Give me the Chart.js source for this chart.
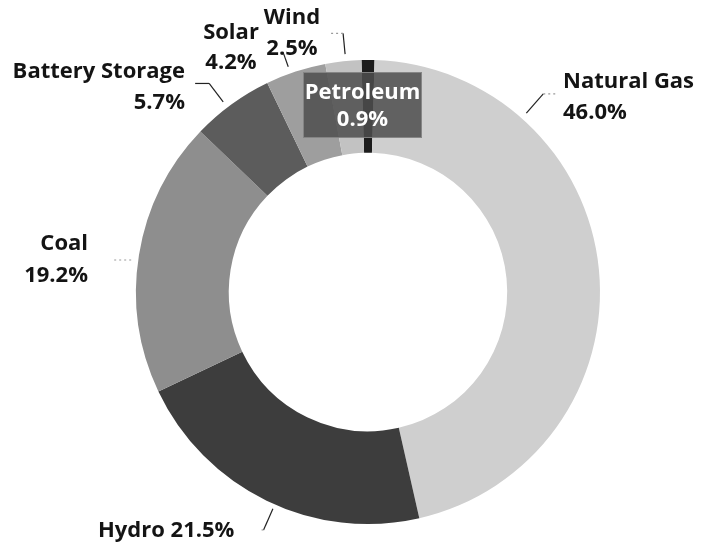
<!DOCTYPE html>
<html>
<head>
<meta charset="utf-8">
<script src="https://cdn.jsdelivr.net/npm/chart.js@4"></script>
<style>
  body { margin: 0; background: #fff; }
  #wrap { width: 701px; height: 549px; position: relative; }
</style>
</head>
<body>
<div id="wrap"><canvas id="mixChart"></canvas></div>
<script>
// Generation mix, percent share by source (clockwise from top)
const sources = ['Petroleum', 'Natural Gas', 'Hydro', 'Coal', 'Battery Storage', 'Solar', 'Wind'];
const shares = [0.9, 46.0, 21.5, 19.2, 5.7, 4.2, 2.5];
const sliceColors = ['#1c1c1c', '#cfcfcf', '#3d3d3d', '#8e8e8e', '#5c5c5c', '#9e9e9e', '#c2c2c2'];

// Where each outside label sits and how its leader line runs
// leader: angle in degrees clockwise from top, r0/r1 as a fraction of the outer radius, tail in px
const labelLayout = {
    'Natural Gas':     { x: 563, y: 82,  align: 'left',   lineGap: 31, leader: { angle: 41.5, r0: 1.03, r1: 1.14, tail: 13, tailFaint: true } },
    'Hydro':           { x: 98,  y: 531, align: 'left',   lineGap: 0,  oneLine: true, leader: { angle: 203.7, r0: 1.02, r1: 1.12, tail: -4, tailFaint: true } },
    'Coal':            { x: 88,  y: 244, align: 'right',  lineGap: 32, leader: { angle: 277.7, r0: 1.03, r1: 1.03, tail: -17, tailFaint: true } },
    'Battery Storage': { x: 185, y: 72,  align: 'right',  lineGap: 31, leader: { angle: 322.7, r0: 1.03, r1: 1.13, tail: -14 } },
    'Solar':           { x: 231, y: 33,  align: 'center', lineGap: 30, leader: { angle: 340.5, r0: 1.03, r1: 1.09, tail: 0 } },
    'Wind':            { x: 292, y: 18,  align: 'center', lineGap: 31, leader: { angle: 354.5, r0: 1.03, r1: 1.12, tail: -15, tailFaint: true } }
};

// Boxed label drawn over the top of the ring
const boxedLabel = { name: 'Petroleum', x: 303, y: 72, w: 119, h: 66 };

const labelFont = '700 22px "Open Sans", sans-serif';

function polar(cx, cy, r, deg) {
    const a = deg * Math.PI / 180;
    return { x: cx + r * Math.sin(a), y: cy - r * Math.cos(a) };
}

const outsideLabels = {
    id: 'outsideLabels',
    afterDraw(chart) {
        const ctx = chart.ctx;
        const meta = chart.getDatasetMeta(0);
        const arc0 = meta.data[0];
        const cx = arc0.x, cy = arc0.y, R = arc0.outerRadius;

        ctx.save();
        ctx.font = labelFont;
        ctx.textBaseline = 'middle';

        sources.forEach((name, i) => {
            const lay = labelLayout[name];
            if (!lay) return;
            const pct = shares[i].toFixed(1) + '%';

            // leader line
            const L = lay.leader;
            const p0 = polar(cx, cy, R * L.r0, L.angle);
            const p1 = polar(cx, cy, R * L.r1, L.angle);
            ctx.lineWidth = 1.2;
            ctx.strokeStyle = '#222';
            if (L.r1 > L.r0) {
                ctx.beginPath();
                ctx.moveTo(p0.x, p0.y);
                ctx.lineTo(p1.x, p1.y);
                ctx.stroke();
            }
            if (L.tail) {
                ctx.strokeStyle = L.tailFaint ? '#9a9a9a' : '#222';
                ctx.setLineDash(L.tailFaint ? [2, 3] : []);
                ctx.beginPath();
                ctx.moveTo(p1.x, p1.y);
                ctx.lineTo(p1.x + L.tail, p1.y);
                ctx.stroke();
                ctx.setLineDash([]);
            }

            // text
            ctx.fillStyle = '#141414';
            ctx.textAlign = lay.align;
            if (lay.oneLine) {
                ctx.fillText(name + ' ' + pct, lay.x, lay.y);
            } else {
                ctx.fillText(name, lay.x, lay.y);
                ctx.fillText(pct, lay.x, lay.y + lay.lineGap);
            }
        });

        // boxed label
        const bi = sources.indexOf(boxedLabel.name);
        ctx.fillStyle = 'rgba(78,78,78,0.85)';
        ctx.fillRect(boxedLabel.x, boxedLabel.y, boxedLabel.w, boxedLabel.h);
        ctx.strokeStyle = 'rgba(150,150,150,0.7)';
        ctx.lineWidth = 1;
        ctx.strokeRect(boxedLabel.x + 0.5, boxedLabel.y + 0.5, boxedLabel.w - 1, boxedLabel.h - 1);
        ctx.fillStyle = '#ffffff';
        ctx.textAlign = 'center';
        const bx = boxedLabel.x + boxedLabel.w / 2;
        ctx.fillText(boxedLabel.name, bx, boxedLabel.y + 21);
        ctx.fillText(shares[bi].toFixed(1) + '%', bx, boxedLabel.y + 48);

        ctx.restore();
    }
};

const ctx = document.getElementById('mixChart').getContext('2d');
new Chart(ctx, {
    type: 'doughnut',
    data: {
        labels: sources,
        datasets: [{
            data: shares,
            backgroundColor: sliceColors,
            borderWidth: 0
        }]
    },
    options: {
        responsive: true,
        maintainAspectRatio: false,
        animation: false,
        cutout: '60%',
        rotation: -shares[0] * 3.6 / 2,
        layout: { padding: { top: 60, bottom: 25, left: 136, right: 101 } },
        plugins: {
            legend: { display: false },
            tooltip: { enabled: false }
        }
    },
    plugins: [outsideLabels]
});
</script>
</body>
</html>
